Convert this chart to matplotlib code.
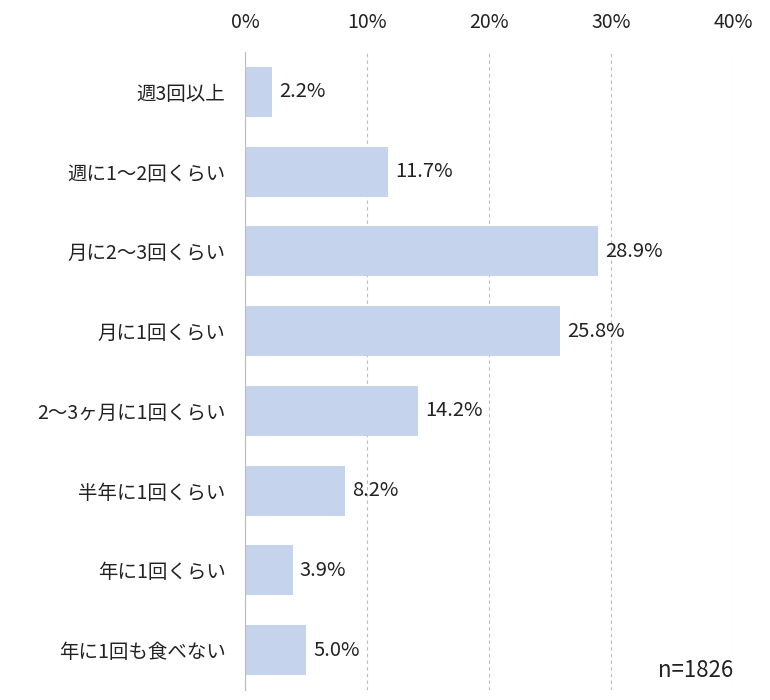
import matplotlib
matplotlib.use("Agg")
import matplotlib.pyplot as plt

categories = ["週3回以上", "週に1～2回くらい", "月に2～3回くらい", "月に1回くらい",
              "2～3ヶ月に1回くらい", "半年に1回くらい", "年に1回くらい", "年に1回も食べない"]
values = [2.2, 11.7, 28.9, 25.8, 14.2, 8.2, 3.9, 5.0]
ticks = [0, 10, 20, 30, 40]
tick_labels = ["0%", "10%", "20%", "30%", "40%"]

plt.rcParams["font.family"] = "Noto Sans CJK JP"
fig = plt.figure(figsize=(7.7, 7.0), dpi=100)
ax = fig.add_axes([245/770, 10/700, 488/770, 638/700])
y = list(range(len(categories)))
ax.barh(y, values, height=0.63, color="#c5d3ec", zorder=2)
for yi, v in zip(y, values):
    ax.text(v + 0.6, yi, f"{v:.1f}%", va="center", ha="left", fontsize=14.5, color="#222222")
ax.set_ylim(len(categories) - 0.5, -0.5)
ax.set_xlim(0, 40)
ax.set_yticks(y)
ax.set_yticklabels(categories, fontsize=14, color="#222222")
ax.set_xticks(ticks)
ax.set_xticklabels(tick_labels, fontsize=14, color="#222222")
ax.xaxis.tick_top()
ax.tick_params(length=0, pad=14)
ax.tick_params(axis="y", pad=14)
ax.grid(axis="x", linestyle=(0, (3, 3)), color="#bbbbbb", linewidth=0.8, zorder=0)
for s in ["top", "right", "bottom"]:
    ax.spines[s].set_visible(False)
ax.spines["left"].set_color("#bbbbbb")
ax.text(40, 7.25, "n=1826", ha="right", va="center", fontsize=16, color="#222222")
fig.savefig("out.png", dpi=100)
